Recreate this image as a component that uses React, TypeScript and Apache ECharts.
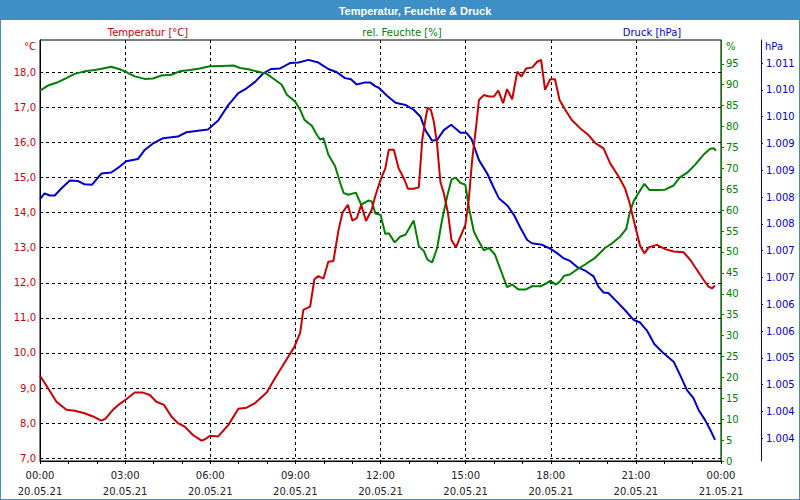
import React, { useEffect, useRef } from "react";
import * as echarts from "echarts";

// ---- data (hour of day, value) ----
const temperature: [number, number][] = [
  [0, 9.35], [0.28, 9.0], [0.58, 8.61], [0.93, 8.38], [1.22, 8.35], [1.57, 8.28], [1.87, 8.19],
  [2.16, 8.07], [2.3, 8.12], [2.57, 8.38], [2.81, 8.55], [3.04, 8.68], [3.34, 8.87], [3.63, 8.87],
  [3.87, 8.8], [4.1, 8.61], [4.37, 8.52], [4.63, 8.19], [4.86, 8.0], [5.1, 7.9], [5.39, 7.66],
  [5.69, 7.5], [5.82, 7.54], [5.99, 7.64], [6.28, 7.62], [6.64, 7.95], [6.99, 8.41], [7.28, 8.44],
  [7.58, 8.57], [7.99, 8.87], [8.28, 9.28], [8.64, 9.75], [8.97, 10.18], [9.17, 10.58], [9.28, 11.23],
  [9.52, 11.32], [9.67, 12.1], [9.81, 12.19], [9.99, 12.12], [10.16, 12.6], [10.34, 12.62],
  [10.52, 13.5], [10.66, 14.0], [10.85, 14.22], [11.01, 13.77], [11.16, 13.84], [11.32, 14.22],
  [11.49, 13.76], [11.69, 14.08], [11.81, 14.46], [12.0, 14.93], [12.17, 15.26], [12.29, 15.79],
  [12.47, 15.79], [12.64, 15.26], [12.82, 14.98], [12.97, 14.68], [13.17, 14.68], [13.35, 14.72],
  [13.47, 16.07], [13.58, 16.64], [13.66, 16.99], [13.78, 16.92], [13.88, 16.59], [13.99, 15.98],
  [14.11, 14.88], [14.23, 14.55], [14.38, 13.98], [14.5, 13.22], [14.66, 13.01], [14.82, 13.32],
  [14.99, 13.65], [15.11, 14.36], [15.23, 15.5], [15.37, 16.45], [15.47, 17.21], [15.64, 17.35],
  [15.82, 17.31], [16.0, 17.31], [16.15, 17.48], [16.32, 17.12], [16.46, 17.52], [16.64, 17.23],
  [16.82, 18.02], [16.97, 17.88], [17.13, 18.11], [17.35, 18.14], [17.52, 18.3], [17.66, 18.35],
  [17.8, 17.5], [17.98, 17.8], [18.15, 17.8], [18.31, 17.21], [18.51, 16.93], [18.74, 16.64],
  [19.04, 16.4], [19.33, 16.21], [19.57, 15.98], [19.86, 15.83], [20.09, 15.41], [20.39, 15.03],
  [20.62, 14.69], [20.78, 14.27], [20.98, 13.6], [21.15, 13.05], [21.3, 12.84], [21.45, 13.01],
  [21.74, 13.08], [22.03, 12.96], [22.33, 12.89], [22.68, 12.87], [22.92, 12.65], [23.15, 12.37],
  [23.39, 12.08], [23.56, 11.89], [23.68, 11.84], [23.79, 11.92],
];

const humidity: [number, number][] = [
  [0, 88.6], [0.28, 89.8], [0.63, 90.6], [0.93, 91.6], [1.22, 92.6], [1.57, 93.2], [1.93, 93.5],
  [2.22, 93.9], [2.51, 94.3], [2.81, 93.7], [3.04, 93.0], [3.34, 92.0], [3.69, 91.4], [3.98, 91.5],
  [4.28, 92.2], [4.63, 92.4], [4.92, 93.2], [5.28, 93.5], [5.63, 93.9], [5.99, 94.4], [6.4, 94.5],
  [6.82, 94.6], [7.05, 94.0], [7.34, 93.7], [7.7, 93.1], [7.99, 92.6], [8.28, 91.2], [8.52, 90.0],
  [8.7, 87.6], [8.99, 86.0], [9.17, 84.0], [9.32, 81.6], [9.58, 80.2], [9.75, 78.1], [9.87, 76.9],
  [9.99, 77.2], [10.16, 73.3], [10.4, 70.5], [10.58, 66.5], [10.7, 64.1], [10.87, 63.7], [11.13, 64.2],
  [11.32, 61.3], [11.57, 62.3], [11.69, 62.1], [11.82, 59.2], [12.0, 58.9], [12.17, 54.3], [12.29, 54.5],
  [12.5, 52.3], [12.7, 53.7], [12.88, 54.1], [13.17, 57.5], [13.35, 51.4], [13.53, 50.2], [13.65, 48.2],
  [13.82, 47.5], [14.0, 51.0], [14.17, 57.7], [14.35, 63.3], [14.5, 67.3], [14.64, 67.8], [14.82, 66.5],
  [14.99, 66.1], [15.13, 60.1], [15.29, 54.9], [15.46, 52.6], [15.64, 50.4], [15.82, 51.0], [16.03, 49.4],
  [16.23, 45.8], [16.46, 41.6], [16.64, 42.2], [16.87, 41.0], [17.11, 41.0], [17.34, 41.8], [17.63, 41.8],
  [17.8, 42.3], [17.98, 43.1], [18.19, 42.2], [18.33, 43.0], [18.47, 44.3], [18.68, 44.6], [18.92, 45.8],
  [19.21, 47.0], [19.56, 48.6], [19.92, 51.0], [20.15, 52.0], [20.45, 53.7], [20.66, 55.5], [20.78, 59.3],
  [20.92, 62.1], [21.13, 64.5], [21.3, 66.3], [21.48, 64.8], [21.74, 64.8], [22.03, 64.9], [22.33, 65.9],
  [22.56, 67.9], [22.8, 68.9], [23.09, 70.9], [23.39, 73.3], [23.62, 74.7], [23.74, 74.8], [23.82, 74.2],
];

const pressure: [number, number][] = [
  [0, 1008.46], [0.16, 1008.57], [0.34, 1008.53], [0.52, 1008.53], [0.75, 1008.66], [1.05, 1008.81],
  [1.34, 1008.8], [1.57, 1008.74], [1.83, 1008.73], [2.16, 1008.94], [2.51, 1008.96], [2.81, 1009.07],
  [3.04, 1009.17], [3.45, 1009.21], [3.69, 1009.38], [3.98, 1009.5], [4.34, 1009.6], [4.86, 1009.63],
  [5.16, 1009.71], [5.57, 1009.74], [5.92, 1009.76], [6.28, 1009.93], [6.64, 1010.22], [6.99, 1010.44],
  [7.28, 1010.53], [7.58, 1010.65], [7.87, 1010.81], [8.14, 1010.89], [8.46, 1010.9], [8.81, 1011.0],
  [9.11, 1011.01], [9.46, 1011.06], [9.81, 1011.01], [10.16, 1010.89], [10.46, 1010.83], [10.75, 1010.72],
  [10.96, 1010.7], [11.16, 1010.6], [11.46, 1010.64], [11.63, 1010.64], [11.81, 1010.57], [11.94, 1010.54],
  [12.23, 1010.39], [12.53, 1010.26], [12.88, 1010.22], [13.17, 1010.13], [13.41, 1010.0], [13.58, 1009.75],
  [13.82, 1009.55], [14.0, 1009.57], [14.23, 1009.75], [14.49, 1009.85], [14.82, 1009.7], [15.03, 1009.7],
  [15.21, 1009.58], [15.47, 1009.19], [15.76, 1008.94], [15.94, 1008.73], [16.17, 1008.48], [16.46, 1008.35],
  [16.7, 1008.17], [16.94, 1007.92], [17.17, 1007.7], [17.34, 1007.64], [17.7, 1007.61], [17.98, 1007.54],
  [18.21, 1007.46], [18.45, 1007.36], [18.68, 1007.31], [18.92, 1007.2], [19.21, 1007.13], [19.51, 1007.02],
  [19.68, 1006.83], [19.86, 1006.72], [20.03, 1006.71], [20.33, 1006.55], [20.62, 1006.39], [20.92, 1006.21],
  [21.15, 1006.16], [21.39, 1006.01], [21.65, 1005.76], [21.97, 1005.59], [22.33, 1005.43], [22.56, 1005.18],
  [22.8, 1004.9], [23.03, 1004.75], [23.21, 1004.53], [23.44, 1004.34], [23.62, 1004.16], [23.79, 1003.97],
];

const xTickLabels = [
  "00:00\n20.05.21", "03:00\n20.05.21", "06:00\n20.05.21", "09:00\n20.05.21", "12:00\n20.05.21",
  "15:00\n20.05.21", "18:00\n20.05.21", "21:00\n20.05.21", "00:00\n21.05.21",
];
const tempTicks = [7, 8, 9, 10, 11, 12, 13, 14, 15, 16, 17, 18];
const humTicks = [0, 5, 10, 15, 20, 25, 30, 35, 40, 45, 50, 55, 60, 65, 70, 75, 80, 85, 90, 95];
const pressTicks = [1004, 1004.5, 1005, 1005.5, 1006, 1006.5, 1007, 1007.5, 1008, 1008.5, 1009, 1009.5, 1010, 1010.5, 1011];
const pressTickLabels = ["1.004", "1.004", "1.005", "1.005", "1.006", "1.006", "1.007", "1.007", "1.008", "1.008", "1.009", "1.009", "1.010", "1.010", "1.011"];

const FONT = "DejaVu Sans";
const RED = "#cc0000";
const GREEN = "#008000";
const BLUE = "#0000cc";
const FRAME = "#3d8fc6";

export default function App() {
  const ref = useRef<HTMLDivElement>(null);
  useEffect(() => {
    const chart = echarts.init(ref.current!, null, { renderer: "svg" });
    chart.setOption({
      animation: false,
      backgroundColor: "#ffffff",
      grid: { left: 40, top: 40, width: 681, height: 421, show: true, borderColor: "#000", borderWidth: 1 },
      graphic: [
        { type: "rect", shape: { x: 0, y: 0, width: 800, height: 20 }, style: { fill: FRAME }, silent: true },
        { type: "rect", shape: { x: 0, y: 0, width: 800, height: 500 }, style: { fill: "none", stroke: FRAME, lineWidth: 2 }, silent: true },
        { type: "text", x: 415, y: 11, style: { text: "Temperatur, Feuchte & Druck", fill: "#fff", font: "bold 11px 'Liberation Sans'", align: "center", verticalAlign: "middle" } },
        { type: "text", x: 148, y: 32, style: { text: "Temperatur [°C]", fill: RED, font: `10px '${FONT}'`, align: "center", verticalAlign: "middle" } },
        { type: "text", x: 402, y: 32, style: { text: "rel. Feuchte [%]", fill: GREEN, font: `10px '${FONT}'`, align: "center", verticalAlign: "middle" } },
        { type: "text", x: 652, y: 32, style: { text: "Druck [hPa]", fill: BLUE, font: `10px '${FONT}'`, align: "center", verticalAlign: "middle" } },
        { type: "text", x: 36, y: 46, style: { text: "°C", fill: RED, font: `10px '${FONT}'`, align: "right", verticalAlign: "middle" } },
        { type: "text", x: 726, y: 46, style: { text: "%", fill: GREEN, font: `10px '${FONT}'`, align: "left", verticalAlign: "middle" } },
        { type: "text", x: 765, y: 46, style: { text: "hPa", fill: BLUE, font: `10px '${FONT}'`, align: "left", verticalAlign: "middle" } },
      ],
      xAxis: {
        type: "value", min: 0, max: 24, interval: 3,
        axisLine: { show: true, lineStyle: { color: "#000", width: 1 } },
        axisTick: { show: true, length: 3, lineStyle: { color: "#000" } },
        minorTick: { show: true, splitNumber: 3, length: 3, lineStyle: { color: "#000" } },
        splitLine: { show: true, lineStyle: { color: "#000", type: [3, 3], width: 1 } },
        axisLabel: {
          formatter: (v: number) => xTickLabels[Math.round(v / 3)],
          color: "#222", fontFamily: FONT, fontSize: 10, lineHeight: 16, margin: 6,
        },
      },
      yAxis: [
        {
          type: "value", position: "left", min: 6.92, max: 18.92,
          axisLine: { show: true, lineStyle: { color: "#000" } },
          axisTick: { show: false, customValues: tempTicks },
          axisLabel: { customValues: tempTicks, formatter: (v: number) => v.toFixed(1).replace(".", ","), color: RED, fontFamily: FONT, fontSize: 10, margin: 4 },
          splitLine: { show: true, lineStyle: { color: "#000", type: [3, 3], width: 1 } },
        },
        {
          type: "value", position: "right", min: 0, max: 100.7,
          axisLine: { show: true, lineStyle: { color: GREEN } },
          axisTick: { show: true, customValues: humTicks, length: 3, lineStyle: { color: GREEN } },
          axisLabel: { customValues: humTicks, color: GREEN, fontFamily: FONT, fontSize: 10, margin: 5 },
          splitLine: { show: false },
        },
        {
          type: "value", position: "right", offset: 40, min: 1003.577, max: 1011.431,
          axisLine: { show: true, lineStyle: { color: BLUE } },
          axisTick: { show: true, customValues: pressTicks, length: 2, lineStyle: { color: BLUE } },
          axisLabel: {
            customValues: pressTicks,
            formatter: (v: number) => pressTickLabels[pressTicks.indexOf(v)] ?? "",
            color: BLUE, fontFamily: FONT, fontSize: 10, margin: 5,
          },
          splitLine: { show: false },
        },
      ],
      series: [
        { name: "Druck [hPa]", type: "line", yAxisIndex: 2, data: pressure, showSymbol: false, lineStyle: { color: BLUE, width: 2 }, itemStyle: { color: BLUE } },
        { name: "rel. Feuchte [%]", type: "line", yAxisIndex: 1, data: humidity, showSymbol: false, lineStyle: { color: GREEN, width: 2 }, itemStyle: { color: GREEN } },
        { name: "Temperatur [°C]", type: "line", yAxisIndex: 0, data: temperature, showSymbol: false, lineStyle: { color: RED, width: 2 }, itemStyle: { color: RED } },
      ],
    });
    return () => chart.dispose();
  }, []);
  return <div ref={ref} style={{ position: "fixed", left: 0, top: 0, width: 800, height: 500 }} />;
}
